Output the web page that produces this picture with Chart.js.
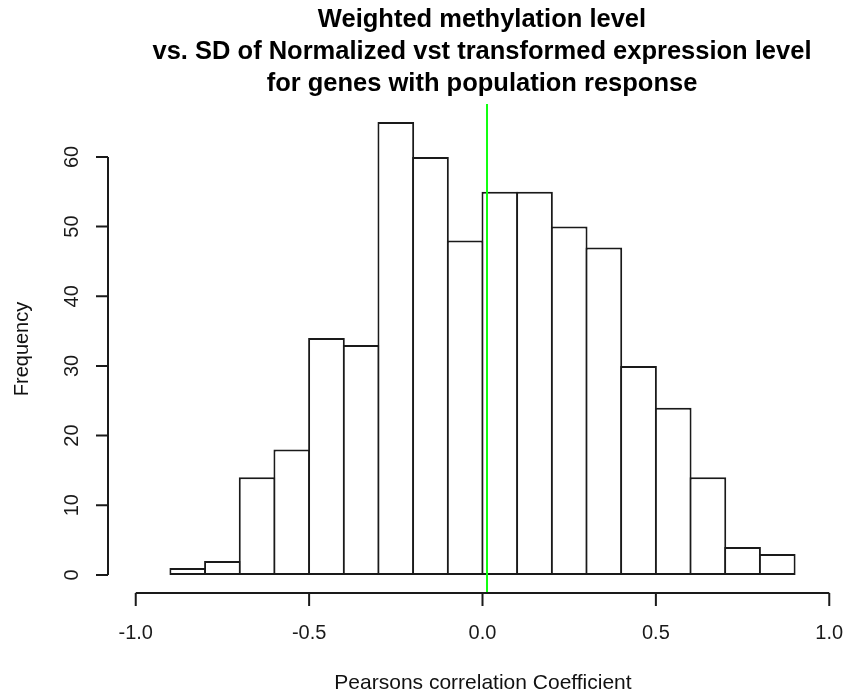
<!DOCTYPE html>
<html>
<head>
<meta charset="utf-8">
<script src="https://cdn.jsdelivr.net/npm/chart.js@4/dist/chart.umd.min.js"></script>
<style>
  html, body { margin: 0; padding: 0; background: #fff; overflow: hidden; }
  #wrap { width: 848px; height: 696px; overflow: hidden; }
</style>
</head>
<body>
<div id="wrap"><canvas id="histChart" width="870" height="696"></canvas></div>
<script>
// histogram bins (left edges) and counts
const binStarts = [-0.9, -0.8, -0.7, -0.6, -0.5, -0.4, -0.3, -0.2, -0.1, 0.0,
                   0.1, 0.2, 0.3, 0.4, 0.5, 0.6, 0.7, 0.8];
const counts = [1, 2, 14, 18, 34, 33, 65, 60, 48, 55, 55, 50, 47, 30, 24, 14, 4, 3];
const binWidth = 0.1;

const xTicks = [-1.0, -0.5, 0.0, 0.5, 1.0];
const xTickLabels = ['-1.0', '-0.5', '0.0', '0.5', '1.0'];
const yTicks = [0, 10, 20, 30, 40, 50, 60];

const refLine = 0.013; // green vertical line

const titleLines = [
  'Weighted methylation level',
  'vs. SD of Normalized vst transformed expression level',
  'for genes with population response'
];
const xTitle = 'Pearsons correlation Coefficient';
const yTitle = 'Frequency';

const FONT = '"Liberation Sans", Arial, Helvetica, sans-serif';

const barData = binStarts.map((b, i) => ({ x: b + binWidth / 2, y: counts[i] }));

// R-style axes, drawn from the chart scales
const rAxes = {
  id: 'rAxes',
  afterDraw(chart) {
    const ctx = chart.ctx;
    const xs = chart.scales.x;
    const ys = chart.scales.y;
    const area = chart.chartArea;
    ctx.save();
    ctx.strokeStyle = '#1a1a1a';
    ctx.fillStyle = '#1a1a1a';
    ctx.lineWidth = 2;

    // x axis
    const xb = area.bottom;
    ctx.beginPath();
    ctx.moveTo(xs.getPixelForValue(xTicks[0]), xb);
    ctx.lineTo(xs.getPixelForValue(xTicks[xTicks.length - 1]), xb);
    xTicks.forEach(t => {
      const px = xs.getPixelForValue(t);
      ctx.moveTo(px, xb);
      ctx.lineTo(px, xb + 13);
    });
    ctx.stroke();
    ctx.font = '20px ' + FONT;
    ctx.textAlign = 'center';
    ctx.textBaseline = 'middle';
    xTicks.forEach((t, i) => {
      ctx.fillText(xTickLabels[i], xs.getPixelForValue(t), 633);
    });

    // y axis
    const yl = area.left;
    ctx.beginPath();
    ctx.moveTo(yl, ys.getPixelForValue(yTicks[0]));
    ctx.lineTo(yl, ys.getPixelForValue(yTicks[yTicks.length - 1]));
    yTicks.forEach(t => {
      const py = ys.getPixelForValue(t);
      ctx.moveTo(yl, py);
      ctx.lineTo(yl - 12, py);
    });
    ctx.stroke();
    yTicks.forEach(t => {
      ctx.save();
      ctx.translate(72, ys.getPixelForValue(t));
      ctx.rotate(-Math.PI / 2);
      ctx.fillText(String(t), 0, 0);
      ctx.restore();
    });

    // axis titles
    ctx.fillStyle = '#111';
    ctx.font = '21px ' + FONT;
    ctx.fillText(xTitle, 483, 683);
    ctx.font = '20px ' + FONT;
    ctx.save();
    ctx.translate(22, 349);
    ctx.rotate(-Math.PI / 2);
    ctx.fillText(yTitle, 0, 0);
    ctx.restore();

    // main title
    ctx.font = 'bold 25.5px ' + FONT;
    ctx.fillStyle = '#000';
    [20, 52, 84].forEach((y, i) => ctx.fillText(titleLines[i], 482, y));
    ctx.restore();
  }
};

new Chart(document.getElementById('histChart').getContext('2d'), {
  type: 'bar',
  data: {
    datasets: [
      {
        type: 'bar',
        data: barData,
        backgroundColor: '#ffffff',
        borderColor: '#1a1a1a',
        borderSkipped: false,
        borderWidth: 2,
        inflateAmount: 0,
        // slightly wider than the bin so neighbouring borders overlap like R's rect()
        barPercentage: 1.058,
        categoryPercentage: 1.0,
        order: 2
      },
      {
        type: 'line',
        data: [{ x: refLine, y: -2.6 }, { x: refLine, y: 67.6 }],
        borderColor: '#11ff11',
        borderWidth: 2,
        pointRadius: 0,
        fill: false,
        order: 1
      }
    ]
  },
  options: {
    responsive: false,
    animation: false,
    events: [],
    layout: { padding: { left: 108, top: 104, right: 13, bottom: 103 } },
    plugins: { legend: { display: false }, tooltip: { enabled: false } },
    scales: {
      x: { type: 'linear', min: -1.08, max: 1.08, offset: false, display: false },
      y: { type: 'linear', min: -2.6, max: 67.6, display: false }
    }
  },
  plugins: [rAxes]
});
</script>
</body>
</html>
